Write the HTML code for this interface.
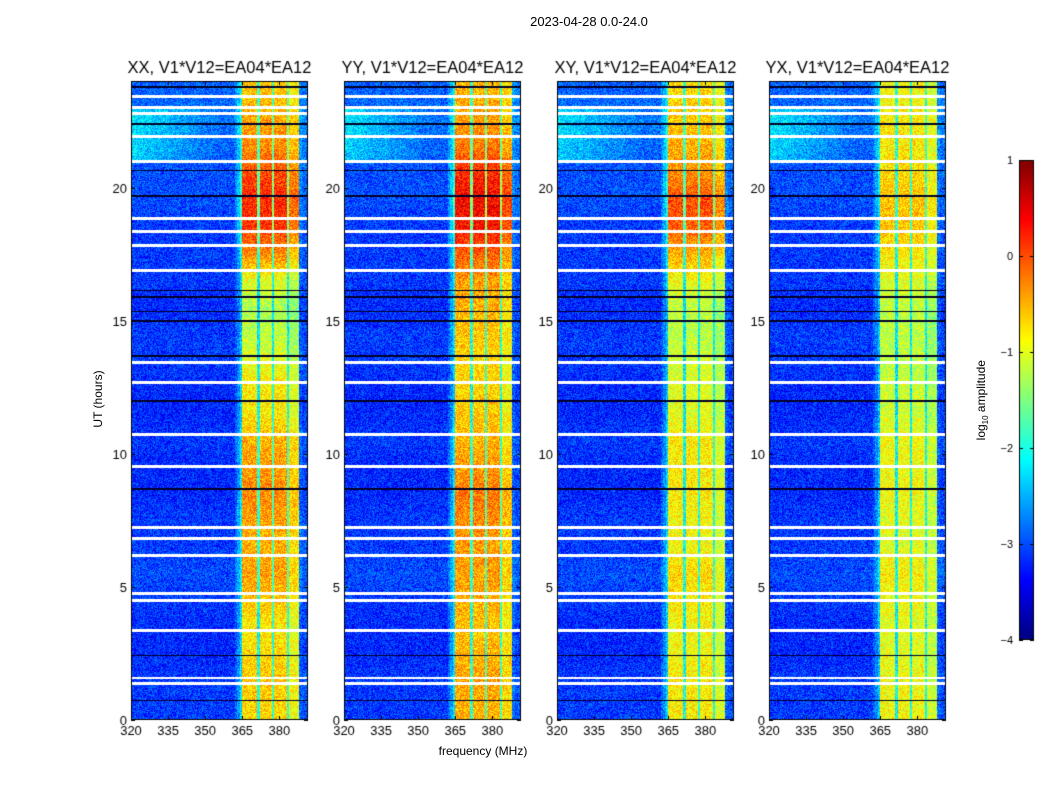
<!DOCTYPE html>
<html><head><meta charset="utf-8">
<style>
body{margin:0;background:#fff;width:1050px;height:800px;overflow:hidden;font-family:"Liberation Sans",sans-serif;}
#root{position:relative;width:1050px;height:800px;}
.t{position:absolute;white-space:nowrap;color:#000;}
canvas{position:absolute;}
</style></head>
<body><div id="root">
<div class="t" style="left:489px;top:14px;width:200px;text-align:center;font-size:13px">2023-04-28 0.0-24.0</div>
<div class="t" style="left:48px;top:392px;width:100px;text-align:center;font-size:12px;transform:rotate(-90deg)">UT (hours)</div>
<div class="t" style="left:400px;top:744px;width:166px;text-align:center;font-size:12px">frequency (MHz)</div>
<div class="t" style="left:922px;top:392px;width:120px;text-align:center;font-size:12px;transform:rotate(-90deg)">log<sub style="font-size:8px">10</sub> amplitude</div>
<canvas id="cv" width="1050" height="800" style="left:0;top:0"></canvas>
</div>
<script>
const panelTitles=["XX, V1*V12=EA04*EA12","YY, V1*V12=EA04*EA12","XY, V1*V12=EA04*EA12","YX, V1*V12=EA04*EA12"];
const xTicks=[320,335,350,365,380];
const yTicks=[0,5,10,15,20];
const cbTicks=[1,0,-1,-2,-3,-4];
// frequency shape per 1 MHz bin starting at 320 MHz (0=background,1=full band)
const freqShape=[0,0,0,0,0,0,0,0,0,0,0,0,0,0,0,0,0,0,0,0,0,0,0,0,0,0,0,0,0,0,0,0,0,0,0,0,0,0,0,0,0,0,0.1,0.2,0.35,1,1,1,1,1,1,0.45,1,1,1,1,1,0.5,1,1,1,1,1,0.5,0.9,0.9,0.9,0.9,0.1,0.05,0.05,0.05];
// per-hour background (log amp) values, hours 0..23
const bgLevel=[-3.1,-3.1,-3.2,-3.2,-3.1,-3.0,-3.1,-3.1,-3.2,-3.2,-3.1,-3.2,-3.2,-3.1,-3.1,-3.2,-3.1,-3.1,-3.1,-3.0,-3.0,-2.9,-2.8,-2.9];
// per-hour band values for each panel
const bandXX=[-0.7,-0.6,-0.7,-0.8,-0.6,-0.4,-0.5,-0.4,-0.3,-0.4,-0.5,-0.8,-0.8,-1.0,-1.2,-1.3,-1.0,-0.3,0.1,0.2,0.0,-0.3,-0.4,-0.6];
const bandYY=[-0.5,-0.4,-0.5,-0.6,-0.5,-0.4,-0.4,-0.3,-0.2,-0.4,-0.5,-0.6,-0.7,-0.7,-0.6,-0.5,-0.4,-0.1,0.3,0.4,0.2,-0.2,-0.4,-0.5];
const bandXY=[-0.8,-0.8,-0.9,-0.9,-0.8,-0.7,-0.9,-0.9,-0.8,-0.8,-0.8,-1.0,-1.0,-1.1,-1.2,-1.2,-0.9,-0.5,-0.1,0.0,-0.3,-0.5,-0.6,-0.7];
const bandYX=[-0.9,-0.9,-1.0,-1.0,-0.9,-0.8,-1.0,-1.0,-0.9,-0.9,-0.9,-1.1,-1.1,-1.2,-1.2,-1.2,-1.0,-0.8,-0.6,-0.6,-0.7,-0.8,-0.8,-0.9];
const whiteRows=[23.43,23.02,22.8,21.93,21.0,18.85,18.36,17.84,16.9,13.44,12.69,10.74,9.54,7.25,6.83,6.2,4.77,4.5,3.38,1.6,1.39];
const blackRows=[23.8,22.4,20.65,19.7,16.15,15.9,15.36,15.0,13.7,12.0,8.7,2.44,0.75];
const panelX=[131,344,557,769], PW=177, PT=81, PH=639, FMIN=320, FMAX=391.6, TMAX=24;
const bands=[bandXX,bandYY,bandXY,bandYX];
const cv=document.getElementById('cv'), ctx=cv.getContext('2d');
function jet(v){
  const r=Math.min(1,Math.max(0,1.5-Math.abs(4*v-3))), g=Math.min(1,Math.max(0,1.5-Math.abs(4*v-2))), b=Math.min(1,Math.max(0,1.5-Math.abs(4*v-1)));
  return [r*255|0,g*255|0,b*255|0];
}
function hash(a,b){let h=(a*374761393+b*668265263)|0;h=(h^(h>>>13))*1274126177|0;return ((h^(h>>>16))>>>0)/4294967296;}
const xs=f=>(f-FMIN)/(FMAX-FMIN)*PW, ys=t=>PT+PH-t/TMAX*PH;
function interp(arr,t){const i=Math.min(arr.length-1,Math.max(0,t-0.5));const a=Math.floor(i),b=Math.min(arr.length-1,a+1);return arr[a]+(arr[b]-arr[a])*(i-a);}
for(let p=0;p<4;p++){
  const img=ctx.createImageData(PW,PH);
  for(let y=0;y<PH;y++){
    const t=(PH-y-0.5)/PH*TMAX;
    let white=whiteRows.some(w=>Math.abs(ys(w)-PT-y)<1.2);
    let black=blackRows.some(w=>Math.abs(ys(w)-PT-y)<0.8);
    const bg=interp(bgLevel,t), bd=interp(bands[p],t);
    for(let x=0;x<PW;x++){
      const k=(y*PW+x)*4;
      if(white){img.data[k]=img.data[k+1]=img.data[k+2]=255;img.data[k+3]=255;continue;}
      const f=FMIN+(x+0.5)/PW*(FMAX-FMIN);
      const s=freqShape[Math.min(freqShape.length-1,Math.floor(f-FMIN))];
      let v=bg+s*(bd-bg)+(hash(x+p*1000,y)-0.5)*0.8;
      if(t>21&&t<23&&x<PW*0.5) v+=0.6*(1-x/(PW*0.5));
      if(black) v=-4.6;
      const c=v<-4.3?[0,0,40]:jet(Math.min(1,Math.max(0,(v+4)/5)));
      img.data[k]=c[0];img.data[k+1]=c[1];img.data[k+2]=c[2];img.data[k+3]=255;
    }
  }
  ctx.putImageData(img,panelX[p],PT);
  ctx.strokeStyle='#000';ctx.lineWidth=1;ctx.strokeRect(panelX[p]+0.5,PT+0.5,PW-1,PH-1);
  ctx.fillStyle='#000';ctx.font='13px "Liberation Sans", sans-serif';ctx.textAlign='center';
  xTicks.forEach(v=>{const x=panelX[p]+xs(v);ctx.fillRect(Math.round(x),PT+PH-4,1,4);ctx.fillRect(Math.round(x),PT,1,4);ctx.fillText(String(v),x,PT+PH+15);});
  ctx.textAlign='right';
  yTicks.forEach(v=>{const y=ys(v);ctx.fillRect(panelX[p],Math.round(y),4,1);ctx.fillRect(panelX[p]+PW-4,Math.round(y),4,1);ctx.fillText(String(v),panelX[p]-4,y+5);});
  ctx.textAlign='center';ctx.font='16.5px "Liberation Sans", sans-serif';
  ctx.fillText(panelTitles[p],panelX[p]+PW/2,PT-8);
}
const CX=1019,CW=15,CT=160,CH=480;
for(let y=0;y<CH;y++){const c=jet(1-(y+0.5)/CH);ctx.fillStyle=`rgb(${c[0]},${c[1]},${c[2]})`;ctx.fillRect(CX,CT+y,CW,1);}
ctx.strokeStyle='#000';ctx.strokeRect(CX+0.5,CT+0.5,CW-1,CH-1);
ctx.fillStyle='#000';ctx.font='11px "Liberation Sans", sans-serif';ctx.textAlign='right';
cbTicks.forEach(v=>{const y=CT+(1-v)/5*CH;ctx.fillRect(CX,Math.round(y),4,1);ctx.fillRect(CX+CW-4,Math.round(y),4,1);ctx.fillText(v<0?'\u2212'+(-v):String(v),CX-6,y+4);});
</script>
</body></html>
